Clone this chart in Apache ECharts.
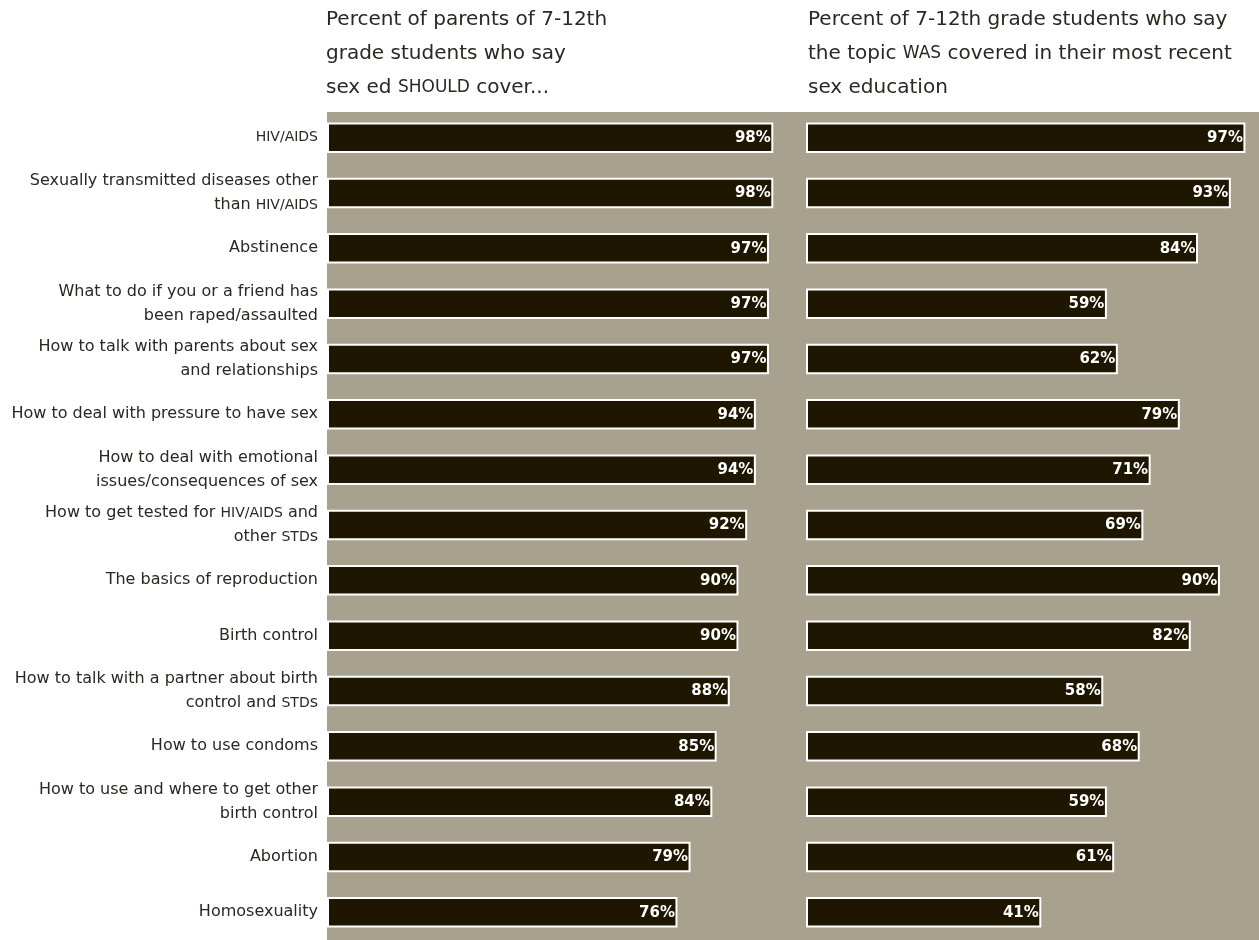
<!DOCTYPE html>
<html><head><meta charset="utf-8">
<script src="https://cdn.jsdelivr.net/npm/echarts@6/dist/echarts.min.js"></script>
<style>html,body{margin:0;padding:0;background:#fff}#c{width:1259px;height:940px}</style>
</head><body><div id="c"></div>
<script>
// ---- data ----
const categories = [
  'HIV/AIDS',
  'Sexually transmitted diseases other\nthan HIV/AIDS',
  'Abstinence',
  'What to do if you or a friend has\nbeen raped/assaulted',
  'How to talk with parents about sex\nand relationships',
  'How to deal with pressure to have sex',
  'How to deal with emotional\nissues/consequences of sex',
  'How to get tested for HIV/AIDS and\nother STDs',
  'The basics of reproduction',
  'Birth control',
  'How to talk with a partner about birth\ncontrol and STDs',
  'How to use condoms',
  'How to use and where to get other\nbirth control',
  'Abortion',
  'Homosexuality'
];
const parentsShould = [98, 98, 97, 97, 97, 94, 94, 92, 90, 90, 88, 85, 84, 79, 76];
const studentsWas   = [97, 93, 84, 59, 62, 79, 71, 69, 90, 82, 58, 68, 59, 61, 41];
const titleParents  = 'Percent of parents of 7-12th\ngrade students who say\nsex ed SHOULD cover...';
const titleStudents = 'Percent of 7-12th grade students who say\nthe topic WAS covered in their most recent\nsex education';

// ---- style / layout ----
const FONT = '"DejaVu Sans", sans-serif';
const TEXT = '#2b2721';
const BAR = '#1f1600';
const BG = '#a8a18d';
const LEFT_MIN = -4, LEFT_MAX = 100;
const RIGHT_MIN = -23, RIGHT_MAX = 101;

function smallCaps(s) {
  return s.replace(/(HIV\/AIDS|STD|SHOULD|WAS)/g, '{sc|$1}');
}

function makeRender(axisMin) {
  return function (params, api) {
    const v = api.value(0), c = api.value(1);
    const s = api.coord([axisMin, c]);
    const e = api.coord([v, c]);
    const h = 28.5;
    return {
      type: 'group',
      children: [
        { type: 'rect', shape: { x: s[0], y: s[1] - h / 2, width: e[0] - s[0], height: h },
          style: { fill: BAR, stroke: '#ffffff', lineWidth: 2 } },
        { type: 'text', style: { text: v + '%', x: e[0] - 1.5, y: s[1] + 0.5, align: 'right', verticalAlign: 'middle',
          fill: '#ffffff', font: 'bold 15px ' + FONT } }
      ]
    };
  };
}

const chart = echarts.init(document.getElementById('c'), null, { renderer: 'canvas' });
const catAxisBase = {
  type: 'category', data: categories, inverse: true,
  axisLine: { show: false }, axisTick: { show: false }, splitLine: { show: false }
};
const titleStyle = {
  fontFamily: FONT, fontSize: 20, color: TEXT, fontWeight: 'normal', lineHeight: 34,
  rich: { sc: { fontFamily: FONT, fontSize: 17, color: TEXT, lineHeight: 34 } }
};
chart.setOption({
  animation: false,
  backgroundColor: '#ffffff',
  graphic: [{ type: 'rect', z: -10, shape: { x: 327, y: 112, width: 932, height: 828 }, style: { fill: BG } }],
  title: [
    { text: smallCaps(titleParents), left: 326, top: 3, padding: 0, textStyle: titleStyle },
    { text: smallCaps(titleStudents), left: 808, top: 3, padding: 0, textStyle: titleStyle }
  ],
  grid: [
    { left: 328, top: 110, width: 453, height: 840 },
    { left: 807, top: 110, width: 452, height: 840 }
  ],
  xAxis: [
    { gridIndex: 0, type: 'value', min: LEFT_MIN, max: LEFT_MAX, show: false },
    { gridIndex: 1, type: 'value', min: RIGHT_MIN, max: RIGHT_MAX, show: false }
  ],
  yAxis: [
    Object.assign({ gridIndex: 0 }, catAxisBase, {
      axisLabel: {
        margin: 10, align: 'right', fontFamily: FONT, fontSize: 16, color: TEXT, lineHeight: 24,
        formatter: v => smallCaps(v),
        rich: { sc: { fontFamily: FONT, fontSize: 14, color: TEXT, lineHeight: 24 } }
      }
    }),
    Object.assign({ gridIndex: 1 }, catAxisBase, { axisLabel: { show: false } })
  ],
  series: [
    { type: 'custom', xAxisIndex: 0, yAxisIndex: 0, renderItem: makeRender(LEFT_MIN),
      encode: { x: 0, y: 1 }, data: parentsShould.map((v, i) => [v, i]) },
    { type: 'custom', xAxisIndex: 1, yAxisIndex: 1, renderItem: makeRender(RIGHT_MIN),
      encode: { x: 0, y: 1 }, data: studentsWas.map((v, i) => [v, i]) }
  ]
});
</script>
</body></html>
